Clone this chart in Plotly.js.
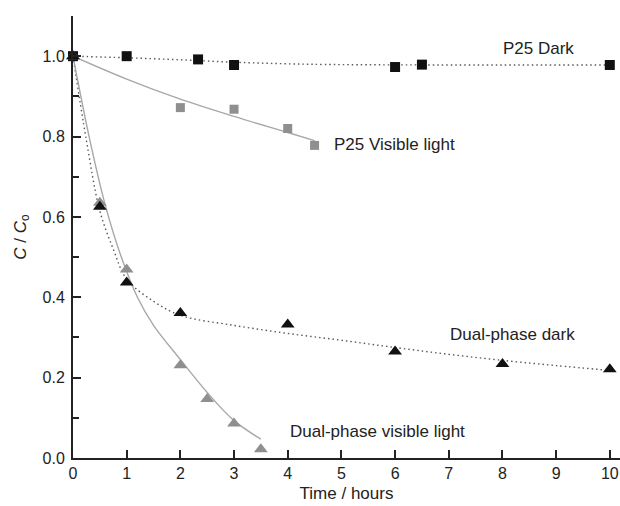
<!DOCTYPE html>
<html>
<head>
<meta charset="utf-8">
<script src="https://cdn.plot.ly/plotly-3.0.1.min.js"></script>
<style>html,body{margin:0;padding:0;background:#fff;}#chart{width:620px;height:506px;}</style>
</head>
<body>
<div id="chart"></div>
<script>
// Measured data points
const p25DarkX = [0, 1, 2.33, 3, 6, 6.5, 10];
const p25DarkY = [1.0, 1.0, 0.992, 0.978, 0.973, 0.979, 0.978];
const p25VisX = [0, 2, 3, 4, 4.5];
const p25VisY = [1.0, 0.872, 0.868, 0.82, 0.778];
const dpDarkX = [0, 0.5, 1, 2, 4, 6, 8, 10];
const dpDarkY = [1.0, 0.625, 0.437, 0.361, 0.332, 0.265, 0.234, 0.221];
const dpVisX = [0, 0.5, 1, 2, 2.5, 3, 3.5];
const dpVisY = [1.0, 0.635, 0.469, 0.231, 0.147, 0.086, 0.022];

// Fitted curves
const p25DarkFitX = [0, 1, 2, 3, 4, 5, 10];
const p25DarkFitY = [1.0, 0.996, 0.991, 0.985, 0.981, 0.979, 0.978];
const p25VisFitX = [0, 1, 2, 3, 4, 4.5];
const p25VisFitY = [1.0, 0.943, 0.893, 0.85, 0.81, 0.79];
const dpDarkFitX = [0, 0.25, 0.5, 0.75, 1, 1.5, 2, 3, 4, 5, 6, 7, 8, 9, 10];
const dpDarkFitY = [1.0, 0.79, 0.615, 0.52, 0.445, 0.39, 0.355, 0.33, 0.31, 0.293, 0.275, 0.258, 0.243, 0.23, 0.218];
const dpVisFitX = [0, 0.3, 0.6, 0.9, 1.2, 1.5, 2, 2.5, 3, 3.5];
const dpVisFitY = [1.0, 0.80, 0.63, 0.50, 0.40, 0.33, 0.245, 0.163, 0.093, 0.047];

const xTickVals = [0,1,2,3,4,5,6,7,8,9,10];
const yTickVals = [0.0,0.2,0.4,0.6,0.8,1.0];

const labels = [
  {text: 'P25 Dark', x: 8.67, y: 1.019, anchor: 'center'},
  {text: 'P25 Visible light', x: 4.82, y: 0.78, anchor: 'left'},
  {text: 'Dual-phase dark', x: 6.98, y: 0.307, anchor: 'left'},
  {text: 'Dual-phase visible light', x: 4.0, y: 0.067, anchor: 'left'}
];

const FONT = 'Arial, "Liberation Sans", sans-serif';
const DARK = '#111111';
const GREY = '#8f8f8f';
const DOT = {color: '#5a5a5a', width: 1.4, dash: '1.5px,3px', shape: 'spline'};

const traces = [
  {x: p25DarkFitX, y: p25DarkFitY, mode: 'lines', line: DOT, hoverinfo: 'skip'},
  {x: p25VisFitX, y: p25VisFitY, mode: 'lines', line: {color: '#a8a8a8', width: 1.4, shape: 'spline'}, hoverinfo: 'skip'},
  {x: dpDarkFitX, y: dpDarkFitY, mode: 'lines', line: DOT, hoverinfo: 'skip'},
  {x: dpVisFitX, y: dpVisFitY, mode: 'lines', line: {color: '#a8a8a8', width: 1.4, shape: 'spline'}, hoverinfo: 'skip'},
  {x: p25VisX, y: p25VisY, mode: 'markers', name: 'P25 Visible light', cliponaxis: false, marker: {symbol: 'square', size: 9, color: GREY}},
  {x: p25DarkX, y: p25DarkY, mode: 'markers', name: 'P25 Dark', cliponaxis: false, marker: {symbol: 'square', size: 10, color: DARK}},
  {x: dpVisX, y: dpVisY, mode: 'markers', name: 'Dual-phase visible light', cliponaxis: false, marker: {symbol: 'triangle-up', size: 12, color: GREY}},
  {x: dpDarkX, y: dpDarkY, mode: 'markers', name: 'Dual-phase dark', cliponaxis: false, marker: {symbol: 'triangle-up', size: 12, color: DARK}}
];

const layout = {
  width: 620, height: 506,
  margin: {l: 73, r: 0, t: 16, b: 48},
  paper_bgcolor: '#fff', plot_bgcolor: '#fff',
  showlegend: false,
  font: {family: FONT, color: '#222', size: 16},
  xaxis: {
    range: [0, 10.19], tickvals: xTickVals, ticktext: xTickVals.map(String),
    ticks: 'inside', ticklen: 8, tickwidth: 2, tickcolor: '#222',
    showline: true, linewidth: 2, linecolor: '#222',
    showgrid: false, zeroline: false,
    tickfont: {size: 16, family: FONT, color: '#222'},
    title: {text: 'Time / hours', font: {size: 17, family: FONT, color: '#222'}, standoff: 6}
  },
  yaxis: {
    range: [0, 1.1], tickvals: yTickVals, ticktext: yTickVals.map(v => v.toFixed(1)),
    ticks: 'inside', ticklen: 8, tickwidth: 2, tickcolor: '#222',
    ticklabelstandoff: 3,
    minor: {dtick: 0.1, ticks: 'inside', ticklen: 6, tickwidth: 2, tickcolor: '#222'},
    showline: true, linewidth: 2, linecolor: '#222',
    showgrid: false, zeroline: false,
    tickfont: {size: 16, family: FONT, color: '#222'},
    title: {text: '<i>C</i> / <i>C</i><sub>o</sub>', font: {size: 17, family: FONT, color: '#222'}, standoff: 12}
  },
  annotations: labels.map(l => ({
    text: l.text, x: l.x, y: l.y, xref: 'x', yref: 'y',
    xanchor: l.anchor, yanchor: 'middle', showarrow: false,
    font: {size: 17, family: FONT, color: '#222'}
  }))
};

Plotly.newPlot('chart', traces, layout, {displayModeBar: false, staticPlot: true});
</script>
</body>
</html>
